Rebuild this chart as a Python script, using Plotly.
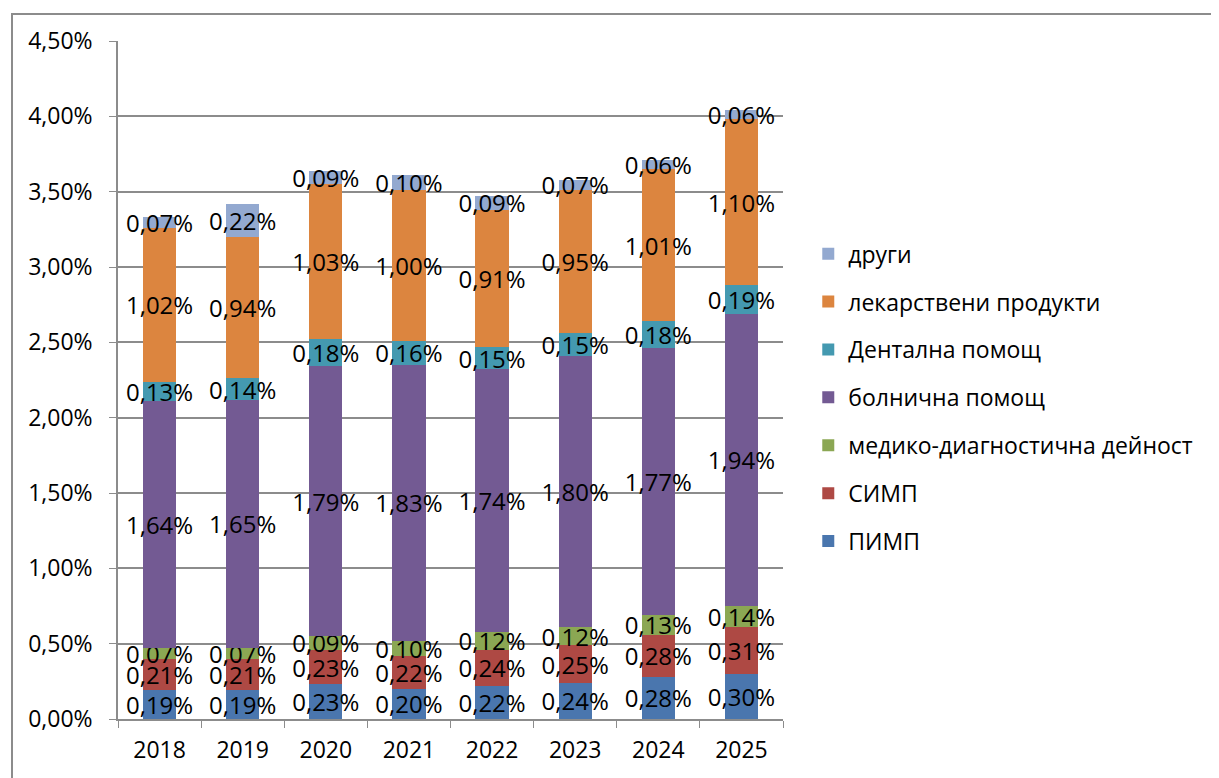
import plotly.graph_objects as go

years = ["2018", "2019", "2020", "2021", "2022", "2023", "2024", "2025"]
pimp = [0.19, 0.19, 0.23, 0.20, 0.22, 0.24, 0.28, 0.30]
simp = [0.21, 0.21, 0.23, 0.22, 0.24, 0.25, 0.28, 0.31]
med_diag = [0.07, 0.07, 0.09, 0.10, 0.12, 0.12, 0.13, 0.14]
hospital = [1.64, 1.65, 1.79, 1.83, 1.74, 1.80, 1.77, 1.94]
dental = [0.13, 0.14, 0.18, 0.16, 0.15, 0.15, 0.18, 0.19]
medicines = [1.02, 0.94, 1.03, 1.00, 0.91, 0.95, 1.01, 1.10]
other = [0.07, 0.22, 0.09, 0.10, 0.09, 0.07, 0.06, 0.06]

series = [
    ("ПИМП", pimp, "#4A76AE"),
    ("СИМП", simp, "#AE4944"),
    ("медико-диагностична дейност", med_diag, "#8BA753"),
    ("болнична помощ", hospital, "#735A93"),
    ("Дентална помощ", dental, "#4499B0"),
    ("лекарствени продукти", medicines, "#DC853F"),
    ("други", other, "#93A9D0"),
]

FONT = "'Open Sans', sans-serif"

fig = go.Figure()
for i, (name, vals, color) in enumerate(series):
    fig.add_trace(go.Bar(
        x=years, y=vals, name=name,
        marker=dict(color=color, line=dict(width=0)),
        text=vals, texttemplate="%{y:.2f}%",
        textposition="inside", insidetextanchor="middle", textangle=0,
        textfont=dict(color="black", size=24, family=FONT),
        legendgroup=str(i), legendrank=100 - i,
        cliponaxis=False,
    ))

fig.update_layout(
    barmode="stack",
    bargap=0.6,
    width=1219, height=778,
    margin=dict(l=110, r=444, t=33, b=67),
    plot_bgcolor="white", paper_bgcolor="white",
    separators=",.",
    uniformtext=dict(minsize=24, mode="show"),
    font=dict(family=FONT, color="black", size=23),
    showlegend=True,
    legend=dict(
        x=1.038, y=0.718, xanchor="left", yanchor="top",
        traceorder="grouped", tracegroupgap=15,
        font=dict(size=23, family=FONT, color="black"),
        itemwidth=30,
        bgcolor="rgba(0,0,0,0)",
    ),
    xaxis=dict(
        type="category", showgrid=False,
        showline=True, linecolor="#8c8c8c", linewidth=1.5,
        ticks="outside", tickson="boundaries", ticklen=7, tickcolor="#8c8c8c",
        tickfont=dict(size=23, family=FONT),
        ticklabelstandoff=10,
    ),
    yaxis=dict(
        range=[0, 4.5], dtick=0.5, tickformat=".2f", ticksuffix="%",
        showgrid=True, gridcolor="#8c8c8c", gridwidth=1.5,
        showline=True, linecolor="#8c8c8c", linewidth=1.5,
        ticks="outside", ticklen=7, tickcolor="#8c8c8c",
        tickfont=dict(size=23, family=FONT),
        ticklabelstandoff=12,
        zeroline=False,
    ),
)

fig.add_shape(type="rect", xref="paper", yref="paper",
              x0=-0.1594, x1=1.7, y0=-0.2, y1=1.0398,
              line=dict(color="#8c8c8c", width=2), fillcolor="rgba(0,0,0,0)",
              layer="below")

fig.write_html("out.html")
